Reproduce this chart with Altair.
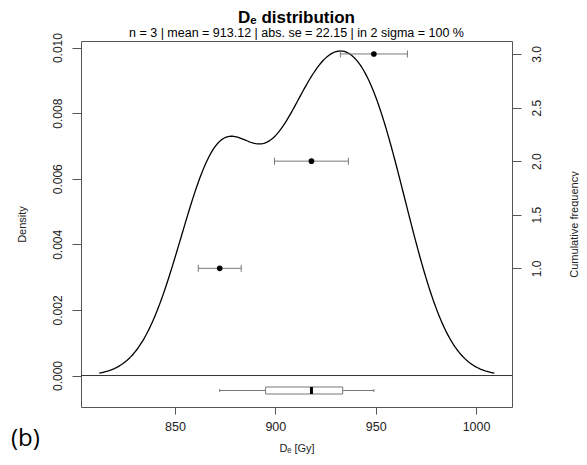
import altair as alt
import pandas as pd

# ---- data ----
de_values = [872.3, 918.0, 949.1]      # De [Gy]
de_errors = [10.7, 18.4, 16.7]         # 1-sigma errors [Gy]
cum_freq = [1, 2, 3]                   # cumulative frequency (rank)
x_ticks = [850, 900, 950, 1000]
density_ticks = [0.0, 0.002, 0.004, 0.006, 0.008, 0.010]
cum_ticks = [1.0, 1.5, 2.0, 2.5, 3.0]
kde_bandwidth = 20.0

title_text = "Dₑ distribution"
subtitle_text = "n = 3 | mean = 913.12 | abs. se = 22.15 | in 2 sigma = 100 %"
panel_label = ["(b)"]

df = pd.DataFrame({"De": de_values, "err": de_errors, "cum": cum_freq})
df["lo"] = df["De"] - df["err"]
df["hi"] = df["De"] + df["err"]

FONT = "Liberation Sans"
W, H = 431, 366

xs = alt.Scale(domain=[803.2, 1017.9], nice=False, zero=False)
ys_left = alt.Scale(domain=[-0.00096, 0.0102], nice=False, zero=False)
ys_right = alt.Scale(domain=[-0.294, 3.121], nice=False, zero=False)

x_axis = alt.Axis(values=x_ticks, format="d", tickSize=7, labelPadding=6,
                  labelFontSize=12.5, titleFontSize=11, titleX=W / 2, titleY=41,
                  titleBaseline="middle", titleAlign="center", titleFontWeight="normal")
left_axis = alt.Axis(values=density_ticks, format=".3f", tickSize=9,
                     labelAngle=270, labelAlign="center", labelBaseline="alphabetic",
                     labelPadding=11, labelFontSize=12, titleAngle=270, titleX=-59,
                     titleY=H / 2, titleBaseline="middle", titleAlign="center",
                     titleFontSize=11, titleFontWeight="normal")
right_axis = alt.Axis(orient="right", values=cum_ticks, format=".1f", tickSize=9,
                      labelAngle=270, labelAlign="center", labelBaseline="top",
                      labelPadding=10, labelFontSize=12, titleAngle=270, titleX=62,
                      titleY=H / 2, titleBaseline="middle", titleAlign="center",
                      titleFontSize=11, titleFontWeight="normal")

XT = "Dₑ [Gy]"
YT = "Density"

def X(field):
    return alt.X(field, type="quantitative", scale=xs, axis=x_axis, title=XT)

lo_ext = min(de_values) - 3 * kde_bandwidth
hi_ext = max(de_values) + 3 * kde_bandwidth

curve = alt.Chart(df).transform_density(
    "De", as_=["De", "density"], bandwidth=kde_bandwidth,
    extent=[lo_ext, hi_ext], steps=300
).mark_line(color="black", strokeWidth=1.3).encode(
    x=X("De"),
    y=alt.Y("density:Q", scale=ys_left, axis=left_axis, title=YT),
)

zero_line = alt.Chart(pd.DataFrame({"density": [0.0]})).mark_rule(
    color="#333333", strokeWidth=1
).encode(y=alt.Y("density:Q", scale=ys_left, axis=left_axis, title=YT))

box_base = alt.Chart(df).transform_aggregate(
    mn="min(De)", q1="q1(De)", med="median(De)", q3="q3(De)", mx="max(De)"
)
whisker = box_base.mark_rule(color="#777777", strokeWidth=1).encode(
    x=X("mn"), x2="mx:Q", y=alt.datum(-0.000457)
)
staples = box_base.transform_fold(["mn", "mx"], as_=["k", "v"]).mark_rule(
    color="#777777", strokeWidth=1
).encode(x=X("v"), y=alt.datum(-0.00041), y2=alt.datum(-0.000503))
box = box_base.mark_bar(fill="white", stroke="#777777", strokeWidth=1).encode(
    x=X("q1"), x2="q3:Q", y=alt.datum(-0.00035), y2=alt.datum(-0.000564)
)
median = box_base.mark_rule(color="black", strokeWidth=3).encode(
    x=X("med"), y=alt.datum(-0.00035), y2=alt.datum(-0.000564)
)

left = alt.layer(curve, zero_line, whisker, staples, box, median)

RY = alt.Y("cum:Q", scale=ys_right, axis=right_axis, title="Cumulative frequency")
errbar = alt.Chart(df).mark_rule(color="#777777", strokeWidth=1).encode(
    x=X("lo"), x2="hi:Q", y=RY
)
caps = alt.Chart(df).transform_fold(["lo", "hi"], as_=["k", "v"]).mark_rule(
    color="#777777", strokeWidth=1, yOffset=-3.5, y2Offset=3.5
).encode(x=X("v"), y=RY, y2="cum:Q")
points = alt.Chart(df).mark_circle(color="black", size=32, opacity=1).encode(
    x=X("De"), y=RY
)
right = alt.layer(errbar, caps, points)

label = alt.Chart(pd.DataFrame({"t": panel_label})).mark_text(
    align="left", baseline="middle", fontSize=24, font="Open Sans", color="black"
).encode(x=alt.value(-70), y=alt.value(398), text="t:N")

chart = alt.layer(left, right, label).resolve_scale(y="independent").properties(
    width=W, height=H,
    title=alt.Title(
        text=title_text, subtitle=subtitle_text, anchor="middle", frame="group",
        font=FONT, fontSize=17, fontWeight="bold", color="black",
        subtitleFont=FONT, subtitleFontSize=12.5, subtitleColor="black",
        offset=-8, subtitlePadding=0,
    ),
    autosize=alt.AutoSizeParams(type="none"),
    padding={"left": 73, "top": 33, "right": 67, "bottom": 48},
).configure_view(
    stroke="#555555", strokeWidth=1
).configure_axis(
    domain=False, grid=False, tickColor="#555555", labelColor="#222222",
    titleColor="#222222", labelFont=FONT, titleFont=FONT
)

chart.save("out.html", embed_options={"renderer": "svg", "actions": False})
